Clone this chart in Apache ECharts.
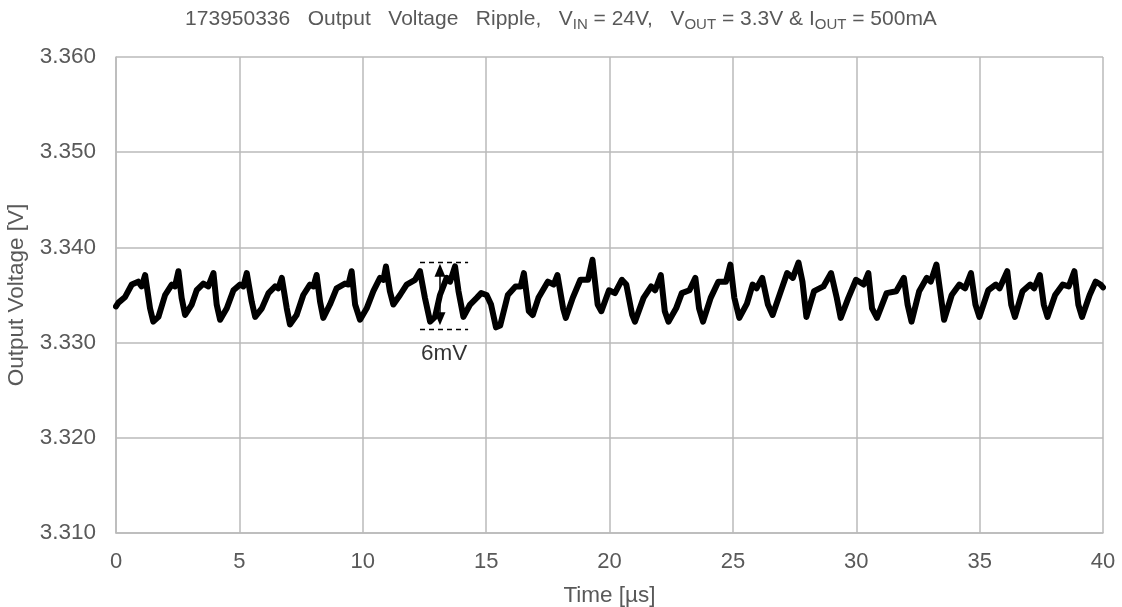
<!DOCTYPE html>
<html>
<head>
<meta charset="utf-8">
<script src="https://cdn.jsdelivr.net/npm/echarts@6/dist/echarts.min.js"></script>
<style>
html,body{margin:0;padding:0;background:#fff;}
#chart{width:1122px;height:607px;}
</style>
</head>
<body>
<div id="chart"></div>
<script>
// Time in microseconds
const timeUs = [
0.00,0.10,0.37,0.64,0.90,1.04,1.18,1.38,1.51,1.72,1.99,2.26,2.39,2.53,2.66,2.80,3.07,3.27,3.54,3.74,3.95,4.08,4.22,4.49,4.76,5.03,5.16,5.30,5.50,5.64,5.91,6.18,6.45,6.58,6.72,6.92,7.05,7.32,7.59,7.86,8.00,8.13,8.27,8.40,8.67,8.94,9.28,9.42,9.55,9.69,9.89,10.16,10.43,10.70,10.84,10.94,11.10,11.24,11.51,11.78,12.12,12.32,12.52,12.73,12.93,13.13,13.40,13.54,13.74,13.88,14.08,14.35,14.62,14.80,15.02,15.20,15.40,15.57,15.88,16.19,16.40,16.53,16.73,16.89,17.12,17.50,17.74,17.89,18.12,18.23,18.51,18.82,19.13,19.31,19.52,19.67,19.98,20.22,20.50,20.68,20.92,21.03,21.38,21.69,21.85,22.08,22.24,22.39,22.70,22.93,23.24,23.48,23.63,23.79,24.10,24.41,24.72,24.90,25.06,25.26,25.57,25.80,25.96,26.19,26.42,26.61,26.89,27.20,27.43,27.66,27.82,27.98,28.29,28.67,28.98,29.21,29.37,29.68,29.99,30.30,30.49,30.64,30.84,31.23,31.62,31.93,32.08,32.24,32.55,32.86,33.02,33.25,33.40,33.56,33.87,34.18,34.41,34.65,34.83,34.99,35.35,35.66,35.81,36.12,36.28,36.43,36.74,37.05,37.21,37.44,37.60,37.75,38.06,38.37,38.61,38.84,39.00,39.15,39.46,39.70,39.90,40.00
];
// Output voltage in volts
const voltageV = [
3.3338,3.3342,3.3348,3.3361,3.3364,3.3359,3.3371,3.3336,3.3322,3.3327,3.3350,3.3361,3.3359,3.3375,3.3347,3.3329,3.3340,3.3355,3.3362,3.3359,3.3373,3.3340,3.3324,3.3336,3.3355,3.3361,3.3359,3.3373,3.3343,3.3327,3.3336,3.3352,3.3359,3.3357,3.3368,3.3336,3.3319,3.3329,3.3350,3.3361,3.3359,3.3371,3.3343,3.3326,3.3340,3.3357,3.3362,3.3361,3.3375,3.3340,3.3324,3.3336,3.3354,3.3368,3.3366,3.3380,3.3354,3.3340,3.3350,3.3361,3.3366,3.3375,3.3347,3.3322,3.3327,3.3350,3.3368,3.3364,3.3380,3.3354,3.3327,3.3340,3.3347,3.3352,3.3350,3.3340,3.3316,3.3318,3.3350,3.3359,3.3359,3.3373,3.3333,3.3329,3.3347,3.3364,3.3361,3.3371,3.3336,3.3326,3.3347,3.3366,3.3366,3.3387,3.3340,3.3333,3.3355,3.3352,3.3366,3.3361,3.3329,3.3322,3.3347,3.3359,3.3355,3.3371,3.3333,3.3322,3.3336,3.3352,3.3355,3.3368,3.3336,3.3322,3.3347,3.3364,3.3364,3.3382,3.3347,3.3326,3.3341,3.3361,3.3357,3.3368,3.3340,3.3329,3.3350,3.3373,3.3368,3.3384,3.3364,3.3327,3.3354,3.3359,3.3373,3.3347,3.3326,3.3347,3.3366,3.3361,3.3373,3.3336,3.3326,3.3352,3.3354,3.3368,3.3340,3.3322,3.3354,3.3368,3.3364,3.3382,3.3354,3.3324,3.3350,3.3361,3.3357,3.3373,3.3340,3.3327,3.3355,3.3361,3.3357,3.3375,3.3340,3.3327,3.3354,3.3361,3.3357,3.3371,3.3340,3.3327,3.3350,3.3361,3.3359,3.3375,3.3340,3.3327,3.3350,3.3364,3.3361,3.3358
];
// Axis ticks
const xTicks = [0, 5, 10, 15, 20, 25, 30, 35, 40];
const yTicks = [3.310, 3.320, 3.330, 3.340, 3.350, 3.360];
// Ripple annotation (6mV)
const rippleTop = 3.3384;
const rippleBottom = 3.3314;
const rippleSpan = [12.32, 14.27];
const rippleArrowT = 13.13;
const rippleArrowEnds = [3.3325, 3.3376];
const rippleLabel = '6mV';
const rippleLabelPos = [13.3, 3.3288];

const seriesData = timeUs.map((t, i) => [t, voltageV[i]]);

const chart = echarts.init(document.getElementById('chart'), null, {renderer: 'canvas'});
const grey = '#595959';
const gridColor = '#bababa';
const font = '"Liberation Sans", Arial, sans-serif';

chart.setOption({
  animation: false,
  backgroundColor: '#ffffff',
  title: {
    text: '{t|173950336   Output   Voltage   Ripple,   V}{s|IN}{t| = 24V,   V}{s|OUT}{t| = 3.3V & I}{s|OUT}{t| = 500mA}',
    left: 'center',
    top: 2,
    textStyle: {
      fontWeight: 'normal',
      rich: {
        t: {fontFamily: font, fontSize: 21, fontWeight: 'normal', color: grey, lineHeight: 25},
        s: {fontFamily: font, fontSize: 15, fontWeight: 'normal', color: grey, lineHeight: 15, verticalAlign: 'bottom'}
      }
    }
  },
  grid: {left: 116, right: 19, top: 57, bottom: 74, containLabel: false, outerBoundsMode: 'none'},
  xAxis: {
    type: 'value',
    min: xTicks[0],
    max: xTicks[xTicks.length - 1],
    interval: xTicks[1] - xTicks[0],
    name: 'Time [µs]',
    nameLocation: 'middle',
    nameGap: 51,
    nameTextStyle: {fontFamily: font, fontSize: 22.5, color: grey},
    axisLine: {show: true, lineStyle: {color: gridColor, width: 1.5}},
    axisTick: {show: false},
    axisLabel: {fontFamily: font, fontSize: 22, color: grey, margin: 18},
    splitLine: {show: true, lineStyle: {color: gridColor, width: 1.5}}
  },
  yAxis: {
    type: 'value',
    min: yTicks[0],
    max: yTicks[yTicks.length - 1],
    interval: 0.01,
    name: 'Output Voltage [V]',
    nameLocation: 'middle',
    nameGap: 78,
    nameTextStyle: {fontFamily: font, fontSize: 22.5, color: grey},
    axisLine: {show: true, lineStyle: {color: gridColor, width: 1.5}},
    axisTick: {show: false},
    axisLabel: {fontFamily: font, fontSize: 22.5, color: grey, margin: 20, formatter: v => v.toFixed(3)},
    splitLine: {show: true, lineStyle: {color: gridColor, width: 1.5}}
  },
  series: [
    {
      type: 'line',
      data: seriesData,
      showSymbol: false,
      symbol: 'none',
      smooth: false,
      lineStyle: {color: '#000000', width: 6, join: 'round', cap: 'round'},
      z: 3,
      markLine: {
        silent: true,
        symbol: ['none', 'none'],
        label: {show: false},
        lineStyle: {color: '#000', type: [5, 4], width: 1.3},
        data: [
          [{coord: [rippleSpan[0], rippleTop]}, {coord: [rippleSpan[1], rippleTop]}],
          [{coord: [rippleSpan[0], rippleBottom]}, {coord: [rippleSpan[1], rippleBottom]}]
        ]
      }
    },
    {
      type: 'line',
      data: [],
      z: 4,
      markLine: {
        silent: true,
        symbol: ['triangle', 'triangle'],
        symbolSize: [11, 13],
        label: {show: false},
        lineStyle: {color: '#000', type: 'solid', width: 1.5},
        data: [
          [{coord: [rippleArrowT, rippleArrowEnds[0]]}, {coord: [rippleArrowT, rippleArrowEnds[1]]}]
        ]
      }
    },
    {
      type: 'scatter',
      data: [rippleLabelPos],
      symbolSize: 0,
      z: 5,
      label: {
        show: true,
        position: 'inside',
        formatter: rippleLabel,
        fontFamily: font,
        fontSize: 22.5,
        color: '#000'
      }
    }
  ]
});
</script>
</body>
</html>
